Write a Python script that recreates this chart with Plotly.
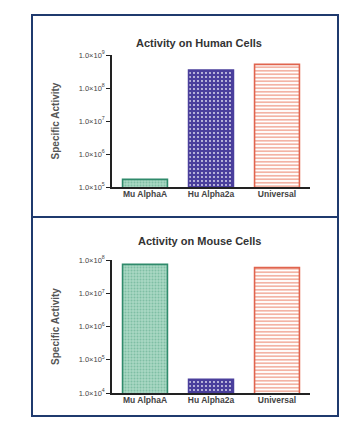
import plotly.graph_objects as go
from plotly.subplots import make_subplots

categories = ["Mu AlphaA", "Hu Alpha2a", "Universal"]
human_values = [1.7e5, 3.5e8, 5.2e8]
mouse_values = [7.4e7, 2.6e4, 5.9e7]
human_tickvals = [1e5, 1e6, 1e7, 1e8, 1e9]
human_ticktext = ["1.0×10<sup>5</sup>", "1.0×10<sup>6</sup>", "1.0×10<sup>7</sup>", "1.0×10<sup>8</sup>", "1.0×10<sup>9</sup>"]
mouse_tickvals = [1e4, 1e5, 1e6, 1e7, 1e8]
mouse_ticktext = ["1.0×10<sup>4</sup>", "1.0×10<sup>5</sup>", "1.0×10<sup>6</sup>", "1.0×10<sup>7</sup>", "1.0×10<sup>8</sup>"]
titles = ["Activity on Human Cells", "Activity on Mouse Cells"]

W, H = 362, 428
styles = [
    dict(line="#2f8a6b", shape=".", fg="#7fbfa4", bg="#a9d8c4", size=3, sol=0.35),
    dict(line="#4a3f9c", shape=".", fg="#e8e6f4", bg="#4a3f9c", size=4, sol=0.16),
    dict(line="#e0644e", shape="-", fg="#f0a08e", bg="#ffffff", size=3.5, sol=0.4),
]

fig = make_subplots(rows=2, cols=1)

for r, vals in enumerate([human_values, mouse_values]):
    for c, (cat, v) in enumerate(zip(categories, vals)):
        s = styles[c]
        fig.add_trace(go.Bar(
            x=[cat], y=[v], width=0.68,
            marker=dict(color=s["bg"], line=dict(color=s["line"], width=1.6),
                        pattern=dict(shape=s["shape"], fgcolor=s["fg"], bgcolor=s["bg"],
                                     size=s["size"], solidity=s["sol"], fillmode="replace")),
            showlegend=False, hoverinfo="skip"), row=r + 1, col=1)

def px(x):
    return x / W

def py(y):
    return 1 - y / H

font = "Liberation Sans, Arial, sans-serif"
axis_common = dict(showline=True, linecolor="#222", linewidth=1.5, showgrid=False,
                   zeroline=False, automargin=False)
ytitle = dict(text="<b>Specific Activity</b>", font=dict(family=font, size=10, color="#555"), standoff=17)
ytick = dict(family=font, size=7.5, color="#444")

fig.update_xaxes(domain=[px(112), px(310)], range=[-0.5, 2.5], ticks="",
                 tickvals=categories, ticktext=["<b>%s</b>" % c for c in categories],
                 ticklabelstandoff=-2,
                 tickfont=dict(family=font, size=8.5, color="#444"), **axis_common)
fig.update_layout(
    barmode="overlay",
    yaxis=dict(domain=[py(187), py(55)], type="log", range=[5, 9], tickvals=human_tickvals,
               ticktext=human_ticktext, ticks="outside", ticklen=4, tickwidth=1.2, tickcolor="#222",
               tickfont=ytick, title=ytitle, **axis_common),
    yaxis2=dict(domain=[py(393), py(260)], type="log", range=[4, 8], tickvals=mouse_tickvals,
                ticktext=mouse_ticktext, ticks="outside", ticklen=4, tickwidth=1.2, tickcolor="#222",
                tickfont=ytick, title=ytitle, **axis_common),
)

for t, y in zip(titles, [35, 241]):
    fig.add_annotation(text="<b>%s</b>" % t, x=px(199), y=py(y), xref="paper", yref="paper",
                       showarrow=False, font=dict(family=font, size=11, color="#333"))

frame = "#1f3a6e"
fig.add_shape(type="rect", xref="paper", yref="paper", x0=px(32), x1=px(338), y0=py(416), y1=py(15),
              line=dict(color=frame, width=2))
fig.add_shape(type="line", xref="paper", yref="paper", x0=px(32), x1=px(338), y0=py(217), y1=py(217),
              line=dict(color=frame, width=2))

fig.update_layout(width=W, height=H, margin=dict(l=0, r=0, t=0, b=0),
                  paper_bgcolor="white", plot_bgcolor="white")

fig.write_html("out.html", config={"displayModeBar": False},
               post_script="document.body.style.margin='0';document.body.style.padding='0';")
